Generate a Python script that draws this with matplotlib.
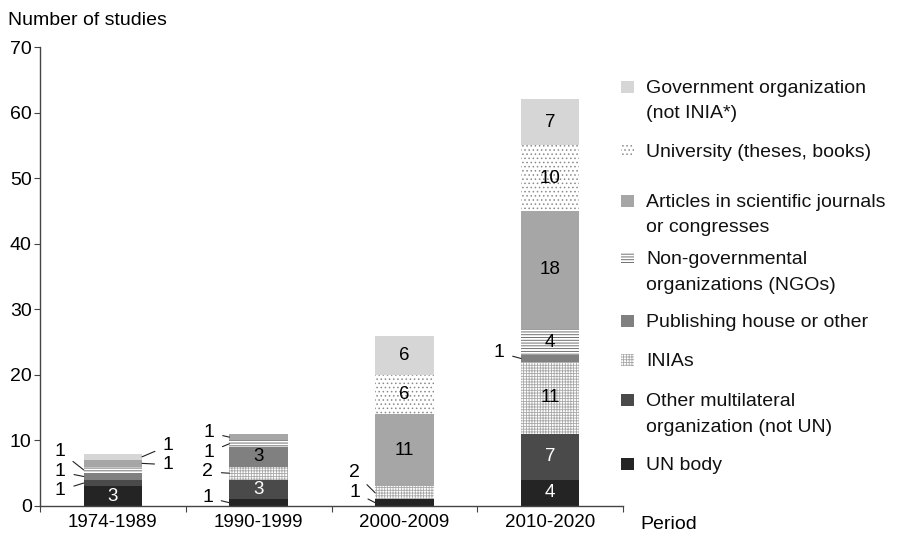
import matplotlib
matplotlib.use("Agg")
import matplotlib.pyplot as plt
from matplotlib.patches import Rectangle
import numpy as np

plt.rcParams['font.family'] = ['Liberation Sans', 'DejaVu Sans']
plt.rcParams['hatch.linewidth'] = 0.6

periods = ['1974-1989', '1990-1999', '2000-2009', '2010-2020']

# stacking order: bottom -> top
un_body            = [3, 1, 1, 4]
other_multilateral = [1, 3, 0, 7]
inias              = [0, 2, 2, 11]
publishing         = [1, 3, 0, 1]
ngos               = [1, 1, 0, 4]
articles           = [1, 1, 11, 18]
university         = [0, 0, 6, 10]
government         = [1, 0, 6, 7]

series = [
    ('UN body', un_body),
    ('Other multilateral\norganization (not UN)', other_multilateral),
    ('INIAs', inias),
    ('Publishing house or other', publishing),
    ('Non-governmental\norganizations (NGOs)', ngos),
    ('Articles in scientific journals\nor congresses', articles),
    ('University (theses, books)', university),
    ('Government organization\n(not INIA*)', government),
]

# styles: facecolor, hatch, hatch colour, inside-text colour
styles = [
    ('#242424', None, '#242424', 'white'),
    ('#4a4a4a', None, '#4a4a4a', 'white'),
    ('white', '++++++', '#a8a8a8', 'black'),
    ('#808080', None, '#808080', 'black'),
    ('white', '------', '#5a5a5a', 'black'),
    ('#a6a6a6', None, '#a6a6a6', 'black'),
    ('white', '....', '#8a8a8a', 'black'),
    ('#d6d6d6', None, '#d6d6d6', 'black'),
]

FS = 14
W, H = 899, 535
fig = plt.figure(figsize=(W / 100, H / 100), dpi=100)
ax = fig.add_axes([40 / W, 1 - 506 / H, 583 / W, 459 / H])

x = np.arange(len(periods))
bw = 0.4
bottom = np.zeros(len(periods))
seg_mid = {}
for si, ((name, vals), (fc, hatch, hc, tc)) in enumerate(zip(series, styles)):
    vals = np.array(vals, dtype=float)
    ax.bar(x, vals, bw, bottom=bottom, color=fc, edgecolor=hc, linewidth=0,
           hatch=hatch)
    for i, v in enumerate(vals):
        if v > 0:
            seg_mid[(i, si)] = bottom[i] + v / 2
            if v >= 3:
                ax.text(x[i], bottom[i] + v / 2, f'{int(v)}', ha='center',
                        va='center', fontsize=13.5, color=tc, zorder=5)
    bottom += vals

# outside labels: (period index, series index, side, text x, text y)
outside = [
    (0, 4, 'L', -0.36, 8.3),
    (0, 3, 'L', -0.36, 5.2),
    (0, 1, 'L', -0.36, 2.4),
    (0, 7, 'R', 0.38, 9.2),
    (0, 5, 'R', 0.38, 6.3),
    (1, 5, 'L', 0.66, 11.2),
    (1, 4, 'L', 0.66, 8.2),
    (1, 2, 'L', 0.65, 5.2),
    (1, 0, 'L', 0.65, 1.3),
    (2, 2, 'L', 1.66, 5.1),
    (2, 0, 'L', 1.66, 2.1),
    (3, 3, 'L', 2.65, 23.4),
]
for i, si, side, tx, ty in outside:
    v = series[si][1][i]
    xe = x[i] - bw / 2 if side == 'L' else x[i] + bw / 2
    ax.annotate(f'{v}', xy=(xe, seg_mid[(i, si)]), xytext=(tx, ty),
                ha='center', va='center', fontsize=FS,
                arrowprops=dict(arrowstyle='-', color='#222222', lw=0.8,
                                shrinkA=4, shrinkB=0))

ax.set_xlim(-0.5, 3.5)
ax.set_ylim(0, 70)
ax.set_yticks(np.arange(0, 71, 10))
ax.set_xticks(np.arange(-0.5, 3.6, 1.0))
ax.set_xticklabels([])
ax.set_xticks(x, minor=True)
ax.set_xticklabels(periods, minor=True, fontsize=13.5)
ax.tick_params(axis='x', which='major', length=4, direction='out', color='#444444')
ax.tick_params(axis='x', which='minor', length=0, pad=6)
ax.tick_params(axis='y', length=4, direction='out', color='#444444', pad=2,
               labelsize=FS)
for s in ['top', 'right']:
    ax.spines[s].set_visible(False)
for s in ['left', 'bottom']:
    ax.spines[s].set_color('#444444')
    ax.spines[s].set_linewidth(1.0)

fig.text(8 / W, 1 - 25 / H, 'Number of studies', fontsize=FS, va='baseline')
fig.text(640 / W, 1 - 529 / H, 'Period', fontsize=FS, va='baseline')

# manual legend (top to bottom), first-line baselines in pixels
legend_base = {7: 93, 6: 157, 5: 207, 4: 264, 3: 327, 2: 366, 1: 406, 0: 470}
line_gap = 25.5
for si in [7, 6, 5, 4, 3, 2, 1, 0]:
    fc, hatch, hc, _ = styles[si]
    b = legend_base[si]
    r = Rectangle((621 / W, 1 - b / H), 13 / W, 12 / H, transform=fig.transFigure,
                  facecolor=fc, edgecolor=hc, linewidth=0, hatch=hatch)
    fig.add_artist(r)
    for k, line in enumerate(series[si][0].split('\n')):
        fig.text(646 / W, 1 - (b + k * line_gap) / H, line, fontsize=FS,
                 va='baseline', color='#111111')

fig.savefig('out.png', dpi=100)
